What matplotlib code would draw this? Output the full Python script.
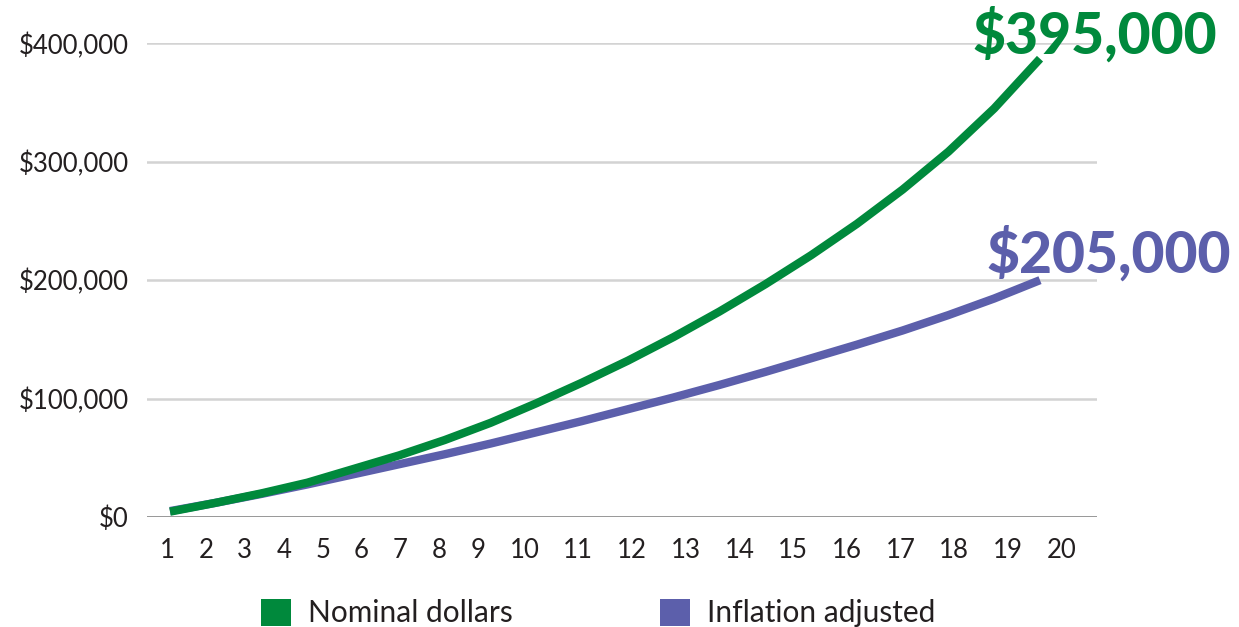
import matplotlib
matplotlib.use("Agg")
import matplotlib.pyplot as plt
from matplotlib.patches import Patch
from matplotlib.ticker import FuncFormatter

# ---------------- data ----------------
years = list(range(1, 21))
nominal = [4.5, 12, 20, 29, 40.5, 52, 65, 79.5, 96, 113.5,
           132, 152, 173.5, 196.5, 221, 247.5, 276.5, 308.5, 345, 387]   # $ thousands
inflation_adj = [5, 12, 19.5, 27.5, 36, 44.5, 53, 62, 71.5, 81,
                 91, 101, 111.5, 122.5, 134, 145.5, 157.5, 170.5, 184.5, 200]  # $ thousands
series_names = ["Nominal dollars", "Inflation adjusted"]
end_labels = ["$395,000", "$205,000"]
y_ticks = [0, 100, 200, 300, 400]
x_labels = [str(y) for y in years]

# ---------------- style ----------------
GREEN = "#00893C"
PURPLE = "#5C5FAB"
TEXT = "#231F20"
FONT = ["Lato", "DejaVu Sans"]
plt.rcParams["font.family"] = FONT

W, H, DPI = 1239, 627, 100
fig = plt.figure(figsize=(W / DPI, H / DPI), dpi=DPI)

# axes placed in pixel terms
ax_left, ax_right = 147, 1097
ax_top, ax_bottom = 43.3, 517          # y=400k and y=0 pixel rows
ax = fig.add_axes([ax_left / W, (H - ax_bottom) / H,
                   (ax_right - ax_left) / W, (ax_bottom - ax_top) / H])

px_per_year = (1040 - 170) / 19.0
x0 = 1 - (170 - ax_left) / px_per_year
x1 = 20 + (ax_right - 1040) / px_per_year
ax.set_xlim(x0, x1)
ax.set_ylim(0, 400)

for s in ax.spines.values():
    s.set_visible(False)

# gridlines
for t in y_ticks:
    if t == 0:
        ax.axhline(t, color="#8E8E8E", lw=2.0, zorder=1)
    else:
        ax.axhline(t, color="#D3D3D3", lw=1.8, zorder=1)

ax.plot(years, inflation_adj, color=PURPLE, lw=6.0, solid_capstyle="butt",
        solid_joinstyle="round", zorder=3, clip_on=False)
ax.plot(years, nominal, color=GREEN, lw=6.0, solid_capstyle="butt",
        solid_joinstyle="round", zorder=4, clip_on=False)

TICK_FS = 18.5
# y ticks
ax.set_yticks(y_ticks)
ax.yaxis.set_major_formatter(FuncFormatter(lambda v, p: "$0" if v == 0 else f"${int(v*1000):,}"))
ax.tick_params(axis="y", length=0, pad=13, labelsize=TICK_FS, labelcolor=TEXT)

# x tick labels laid out like flowing text: spacing depends on label length
char_w, gap = 14.8, 24.1
widths = [len(s) * char_w + gap for s in x_labels]
centers = [167.0]
for i in range(1, len(x_labels)):
    centers.append(centers[-1] + (widths[i - 1] + widths[i]) / 2)
tick_pos = [1 + (c - 170) / px_per_year for c in centers]
ax.set_xticks(tick_pos)
ax.set_xticklabels(x_labels)
ax.tick_params(axis="x", length=0, pad=15, labelsize=TICK_FS, labelcolor=TEXT)

# end labels
ax.annotate(end_labels[0], xy=(years[-1], nominal[-1]), xytext=(-68, 5),
            textcoords="offset pixels", ha="left", va="baseline",
            fontsize=41, fontweight="black", color=GREEN)
ax.annotate(end_labels[1], xy=(years[-1], inflation_adj[-1]), xytext=(-54, 8),
            textcoords="offset pixels", ha="left", va="baseline",
            fontsize=41, fontweight="black", color=PURPLE)

# legend (two separate single-entry legends)
fs = 21.5
fs_px = fs * DPI / 72
for name, col, xpx in [(series_names[0], GREEN, 261), (series_names[1], PURPLE, 660)]:
    lg = fig.legend(handles=[Patch(facecolor=col, edgecolor="none", label=name)],
                    loc="center left", bbox_to_anchor=(xpx / W, 14 / H),
                    frameon=False, fontsize=fs, borderpad=0, borderaxespad=0,
                    handlelength=30 / fs_px, handleheight=30 / fs_px,
                    handletextpad=17 / fs_px)
    for t in lg.get_texts():
        t.set_color(TEXT)

fig.savefig("out.png", dpi=DPI)
